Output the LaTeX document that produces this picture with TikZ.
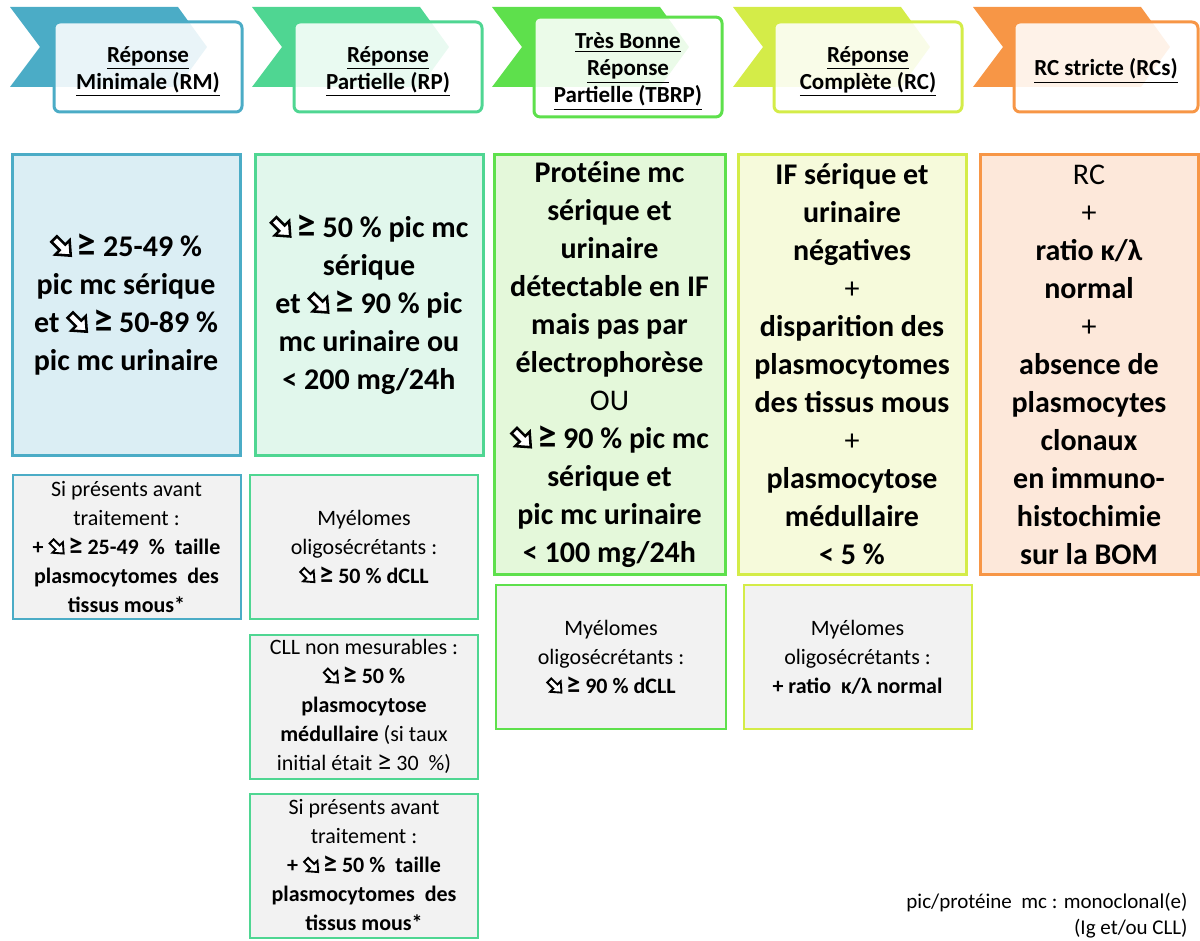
\documentclass[tikz,border=0pt]{standalone}
\usepackage{fontspec}
\setmainfont{Carlito}
\usepackage{tikz}

\definecolor{rmcol}{HTML}{4BACC6}
\definecolor{rmfill}{HTML}{DBEEF4}
\definecolor{rpcol}{HTML}{4FD692}
\definecolor{rpfill}{HTML}{E1F7EC}
\definecolor{tbcol}{HTML}{5EE04C}
\definecolor{tbfill}{HTML}{E4F8DA}
\definecolor{rccol}{HTML}{D4EC48}
\definecolor{rcfill}{HTML}{F6FADB}
\definecolor{rscol}{HTML}{F79646}
\definecolor{rsfill}{HTML}{FDE8DA}
\definecolor{grisbox}{HTML}{F2F2F2}

\newcommand{\bas}{\tikz[baseline={(current bounding box.south)},x=0.13em,y=0.13em]\draw[black,line width=0.085em,fill=white,line join=miter,rotate=-45] (0,1)--(3,1)--(3,2.6)--(6,0)--(3,-2.6)--(3,-1)--(0,-1)--cycle;}
\newcommand{\gte}{\scalebox{1.3}{≥}}
\newcommand{\haut}{\rule{0pt}{12.5pt}}

\begin{document}
\begin{tikzpicture}[x=0.5pt,y=-0.5pt,
    titre/.style={draw,line width=1.5pt,rounded corners=3pt,fill=white,fill opacity=0.88,text opacity=1,
      minimum width=94pt,minimum height=45pt,align=center,font=\fontsize{11.5}{13.5}\selectfont\bfseries},
    crit/.style={draw,line width=1.5pt,align=center,inner sep=0pt,minimum width=114pt,
      font=\fontsize{15}{19}\selectfont\bfseries},
    petit/.style={draw,line width=1pt,fill=grisbox,align=center,inner sep=0pt,minimum width=114pt,
      minimum height=72pt,font=\fontsize{11}{14.5}\selectfont}]
    \useasboundingbox (0,0) rectangle (1200,941);
    \foreach \x/\c in {10/rmcol,252/rpcol,492/tbcol,733/rccol,973/rscol}
        \fill[\c] (\x,7)--++(168,0)--++(29,40)--++(-29,40)--++(-168,0)--++(30,-40)--cycle;
    \node[titre,draw=rmcol] (rm) at (148,67) {\haut\underline{Réponse}\\\underline{Minimale (RM)}};
    \node[titre,draw=rpcol] (rp) at (388,67) {\haut\underline{Réponse}\\\underline{Partielle (RP)}};
    \node[titre,draw=tbcol] (tbrp) at (628,67) {\haut\underline{Très Bonne}\\\underline{Réponse}\\\underline{Partielle (TBRP)}};
    \node[titre,draw=rccol] (rc) at (868,67) {\haut\underline{Réponse}\\\underline{Complète (RC)}};
    \node[titre,draw=rscol,minimum width=92pt] (rcs) at (1106,67) {\haut\underline{RC stricte (RCs)}};

    \node[crit,draw=rmcol,fill=rmfill,minimum height=150pt] (rm-crit) at (126,305)
        {\bas\,\gte\ 25-49 \%\\pic mc sérique\\et \bas\,\gte\ 50-89 \%\\pic mc urinaire};
    \node[crit,draw=rpcol,fill=rpfill,minimum height=150pt] (rp-crit) at (369,305)
        {\bas\,\gte\ 50 \% pic mc\\sérique\\et \bas\,\gte\ 90 \% pic\\mc urinaire ou\\< 200 mg/24h};
    \node[crit,draw=tbcol,fill=tbfill,minimum width=115.5pt,minimum height=209.5pt] (tbrp-crit) at (609.5,364.5)
        {Protéine mc\\sérique et\\urinaire\\détectable en IF\\mais pas par\\électrophorèse\\{\mdseries OU}\\
         \bas\,\gte\ 90 \% pic mc\\sérique et\\pic mc urinaire\\< 100 mg/24h};
    \node[crit,draw=rccol,fill=rcfill,minimum height=209.5pt] (rc-crit) at (852,364.5)
        {IF sérique et\\urinaire\\négatives\\{\mdseries +}\\disparition des\\plasmocytomes\\des tissus mous\\
         {\mdseries +}\\plasmocytose\\médullaire\\< 5 \%};
    \node[crit,draw=rscol,fill=rsfill,minimum width=109pt,minimum height=209.5pt] (rcs-crit) at (1089,364.5)
        {{\mdseries RC}\\{\mdseries +}\\ratio κ/λ\\normal\\{\mdseries +}\\absence de\\plasmocytes\\clonaux\\
         en immuno-\\histochimie\\sur la BOM};

    \node[petit,draw=rmcol] (rm-mou) at (126.5,547)
        {Si présents avant\\traitement :\\\textbf{+ \bas\,\gte\ 25-49~ \%~ taille}\\\textbf{plasmocytomes~ des}\\\textbf{tissus mous*}};
    \node[petit,draw=rpcol] (rp-oligo) at (364,546.5)
        {Myélomes\\oligosécrétants :\\\textbf{\bas\,\gte\ 50 \% dCLL}};
    \node[petit,draw=rpcol] (rp-cll) at (364,706.5)
        {CLL non mesurables :\\\textbf{\bas\,\gte\ 50 \%}\\\textbf{plasmocytose}\\\textbf{médullaire} (si taux\\initial était \gte\ 30~ \%)};
    \node[petit,draw=rpcol] (rp-mou) at (364,865.5)
        {Si présents avant\\traitement :\\\textbf{+ \bas\,\gte\ 50 \%~ taille}\\\textbf{plasmocytomes~ des}\\\textbf{tissus mous*}};
    \node[petit,draw=tbcol,minimum width=115pt] (tbrp-oligo) at (611,657)
        {Myélomes\\oligosécrétants :\\\textbf{\bas\,\gte\ 90 \% dCLL}};
    \node[petit,draw=rccol] (rc-oligo) at (857.5,657)
        {Myélomes\\oligosécrétants :\\\textbf{+ ratio~ κ/λ normal}};

    \node[align=right,anchor=east,inner sep=0pt,font=\fontsize{10.5}{13}\selectfont] (note) at (1188,916)
        {pic/protéine~ mc : monoclonal(e)\\(Ig et/ou CLL)};
\end{tikzpicture}
\end{document}
